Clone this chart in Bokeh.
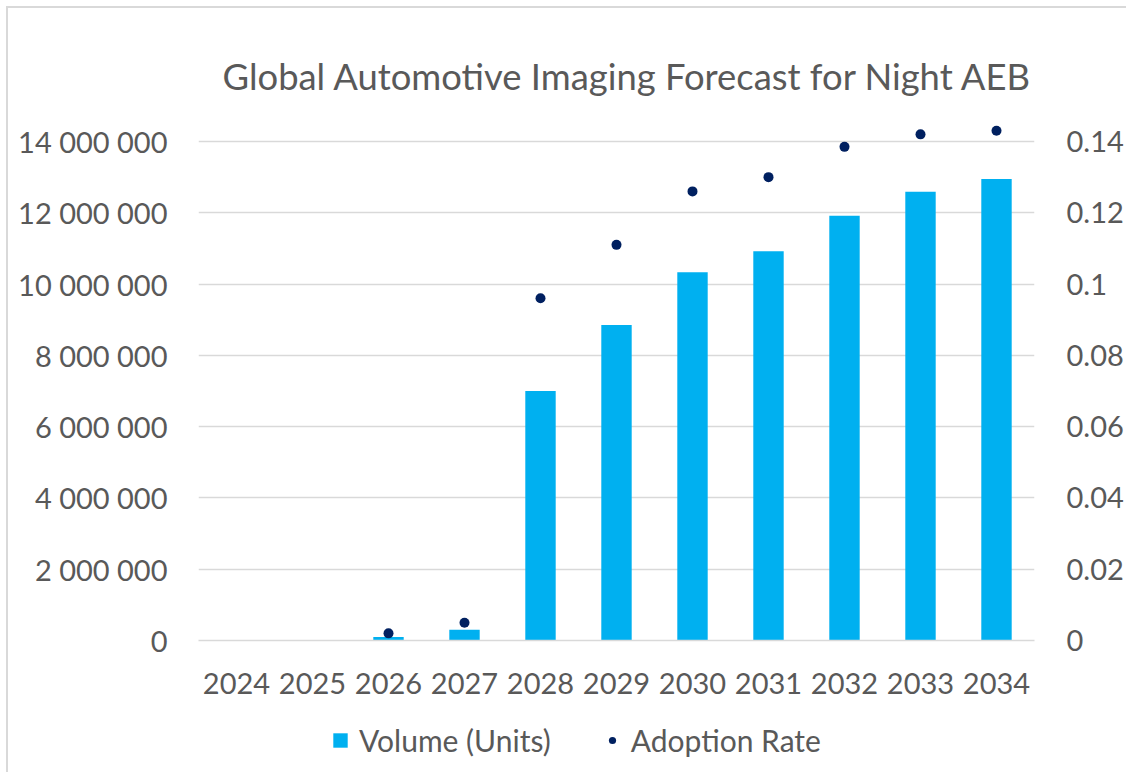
import numpy as np
from bokeh.plotting import figure
from bokeh.layouts import column
from bokeh.models import (ColumnDataSource, Range1d, LinearAxis, FixedTicker,
                          CustomJSTickFormatter, Legend, LegendItem)
from bokeh.embed import file_html
from bokeh.resources import INLINE

# Forecast data
years = ["2024", "2025", "2026", "2027", "2028", "2029", "2030", "2031", "2032", "2033", "2034"]
volume_units = [0, 0, 100000, 300000, 7000000, 8850000, 10330000, 10920000, 11920000, 12590000, 12950000]
adoption_rate = [np.nan, np.nan, 0.002, 0.005, 0.096, 0.111, 0.126, 0.130, 0.1385, 0.142, 0.143]

volume_ticks = [0, 2000000, 4000000, 6000000, 8000000, 10000000, 12000000, 14000000]
rate_ticks = [0, 0.02, 0.04, 0.06, 0.08, 0.10, 0.12, 0.14]

BAR = "#00B0F0"
DOT = "#002060"
GRID = "#D9D9D9"
TEXT = "#595959"
FONT = "Lato"
EDGE = 8  # chart-area border offset

source = ColumnDataSource(dict(year=years, volume=volume_units, rate=adoption_rate))

# a little headroom above the top tick so the top markers are not clipped
headroom = 516 / 499
p = figure(
    x_range=years,
    y_range=Range1d(0, volume_ticks[-1] * headroom),
    frame_width=836, frame_height=516,
    min_border_left=198 - EDGE, min_border_right=89,
    min_border_top=124 - EDGE, min_border_bottom=80,
    output_backend="svg", toolbar_location=None,
    background_fill_color="white", border_fill_color="white",
    outline_line_color=None,
)
p.extra_y_ranges = {"rate": Range1d(0, rate_ticks[-1] * headroom)}

bars = p.vbar(x="year", top="volume", width=0.4, source=source,
              fill_color=BAR, line_color=None)
dots = p.scatter(x="year", y="rate", y_range_name="rate", source=source,
                 size=10, marker="circle", fill_color=DOT, line_color=None)

# Title
p.title.text = "Global Automotive Imaging Forecast for Night AEB"
p.title.text_font = FONT
p.title.text_font_style = "normal"
p.title.text_font_size = "36.4px"
p.title.text_color = TEXT
p.title.align = "left"
p.title.offset = 24
p.title.standoff = 54

# Grid
p.xgrid.grid_line_color = None
p.ygrid.ticker = FixedTicker(ticks=volume_ticks)
p.ygrid.grid_line_color = GRID
p.ygrid.grid_line_width = 1.5


def style_axis(ax, standoff):
    ax.axis_line_color = None
    ax.major_tick_line_color = None
    ax.minor_tick_line_color = None
    ax.major_tick_out = 0
    ax.major_tick_in = 0
    ax.minor_tick_out = 0
    ax.major_label_standoff = standoff
    ax.major_label_text_font = FONT
    ax.major_label_text_font_size = "29px"
    ax.major_label_text_color = TEXT


# Left axis
yl = p.yaxis[0]
yl.ticker = FixedTicker(ticks=volume_ticks)
yl.formatter = CustomJSTickFormatter(
    code="return Math.round(tick).toString().replace(/\\B(?=(\\d{3})+(?!\\d))/g, ' ');")
style_axis(yl, 31)

# Right axis
yr = LinearAxis(y_range_name="rate")
yr.ticker = FixedTicker(ticks=rate_ticks)
yr.formatter = CustomJSTickFormatter(code="return String(Number(tick.toFixed(2)));")
style_axis(yr, 32)
p.add_layout(yr, "right")

# Bottom axis
xa = p.xaxis[0]
style_axis(xa, 32)
xa.axis_line_color = GRID
xa.axis_line_width = 1.5

# Legend strip underneath the chart: the same series are attached here, with a
# y range that keeps them well outside the frame, so only their legend swatches show.
leg = figure(
    width=p.frame_width + p.min_border_left + p.min_border_right, height=52,
    x_range=years, y_range=Range1d(16000000, 17000000),
    x_axis_type=None, y_axis_type=None,
    min_border=0, output_backend="svg", toolbar_location=None,
    background_fill_color="white", border_fill_color="white",
    outline_line_color=None,
)
leg.xgrid.visible = False
leg.ygrid.visible = False
leg_bar = leg.vbar(x="year", top="volume", width=0.4, source=source,
                   fill_color=BAR, line_color=None)
leg_dot = leg.scatter(x="year", y="rate", source=source, size=10, marker="circle",
                      fill_color=DOT, line_color=None)

legend = Legend(
    items=[LegendItem(label="Volume (Units)", renderers=[leg_bar]),
           LegendItem(label="Adoption Rate", renderers=[leg_dot])],
    orientation="horizontal",
    location=(133, 14),
    glyph_width=18, glyph_height=18,
    label_text_font=FONT, label_text_font_size="30px", label_text_color=TEXT,
    label_standoff=10, spacing=52, padding=0, margin=0,
    border_line_color=None, background_fill_alpha=0,
)
leg.add_layout(legend, "center")

page = column(
    p, leg, spacing=0,
    styles={"border-left": f"2px solid {GRID}", "border-top": f"2px solid {GRID}",
            "margin-left": "6px", "margin-top": "6px"},
)

open("out.html", "w").write(file_html(page, INLINE))
